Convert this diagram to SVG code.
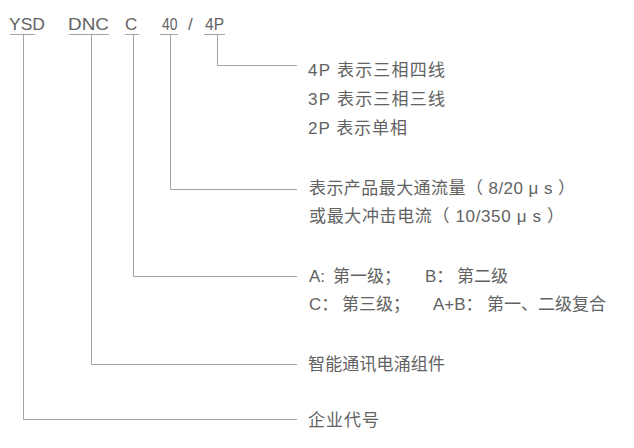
<svg xmlns="http://www.w3.org/2000/svg" width="634" height="448" viewBox="0 0 634 448">
<style>
  .t { font-family: "Liberation Sans", "Noto Sans CJK SC", sans-serif; font-size: 17px; fill: #626262; }
  .c { font-family: "Liberation Sans", "Noto Sans CJK SC", sans-serif; font-size: 17px; fill: #626262; }
  .ln { stroke: #a3a3a3; stroke-width: 1; fill: none; }
</style>
<rect width="634" height="448" fill="#ffffff"/>
<g id="code">
  <text class="c" x="9" y="29.5" textLength="36" lengthAdjust="spacingAndGlyphs">YSD</text>
  <text class="c" x="68" y="29.5" textLength="41" lengthAdjust="spacingAndGlyphs">DNC</text>
  <text class="c" x="125" y="29.5">C</text>
  <text class="c" x="162" y="29.5" textLength="15.5" lengthAdjust="spacingAndGlyphs">40</text>
  <text class="c" x="188" y="29.5">/</text>
  <text class="c" x="205" y="29.5" textLength="19" lengthAdjust="spacingAndGlyphs">4P</text>
</g>
<g id="connectors">
  <path class="ln" d="M10 34.5H35 M69 34.5H109 M125 34.5H139 M160 34.5H178 M204 34.5H225"/>
  <path class="ln" d="M217.5 34.5V65.5H297"/>
  <path class="ln" d="M170.5 34.5V189.5H297"/>
  <path class="ln" d="M133.5 34.5V276.5H297"/>
  <path class="ln" d="M91.5 34.5V364.5H297"/>
  <path class="ln" d="M23.5 34.5V419.5H297"/>
</g>
<g id="poles">
  <text class="t" x="308" y="76" textLength="137">4P 表示三相四线</text>
  <text class="t" x="308" y="105" textLength="137">3P 表示三相三线</text>
  <text class="t" x="308" y="134" textLength="99">2P 表示单相</text>
</g>
<g id="current">
  <text class="t" x="309" y="194" textLength="266">表示产品最大通流量（ 8/20 μ s ）</text>
  <text class="t" x="309" y="222" textLength="255">或最大冲击电流（ 10/350 μ s ）</text>
</g>
<g id="class">
  <text class="t" y="282"><tspan x="309">A:</tspan><tspan x="333">第一级；</tspan><tspan x="425">B：</tspan><tspan x="457">第二级</tspan></text>
  <text class="t" y="310"><tspan x="309">C：</tspan><tspan x="342">第三级；</tspan><tspan x="433">A+B：</tspan><tspan x="487">第一、二级复合</tspan></text>
</g>
<g id="product">
  <text class="t" x="308" y="370" textLength="137">智能通讯电涌组件</text>
</g>
<g id="company">
  <text class="t" x="308" y="426" textLength="71">企业代号</text>
</g>
</svg>
